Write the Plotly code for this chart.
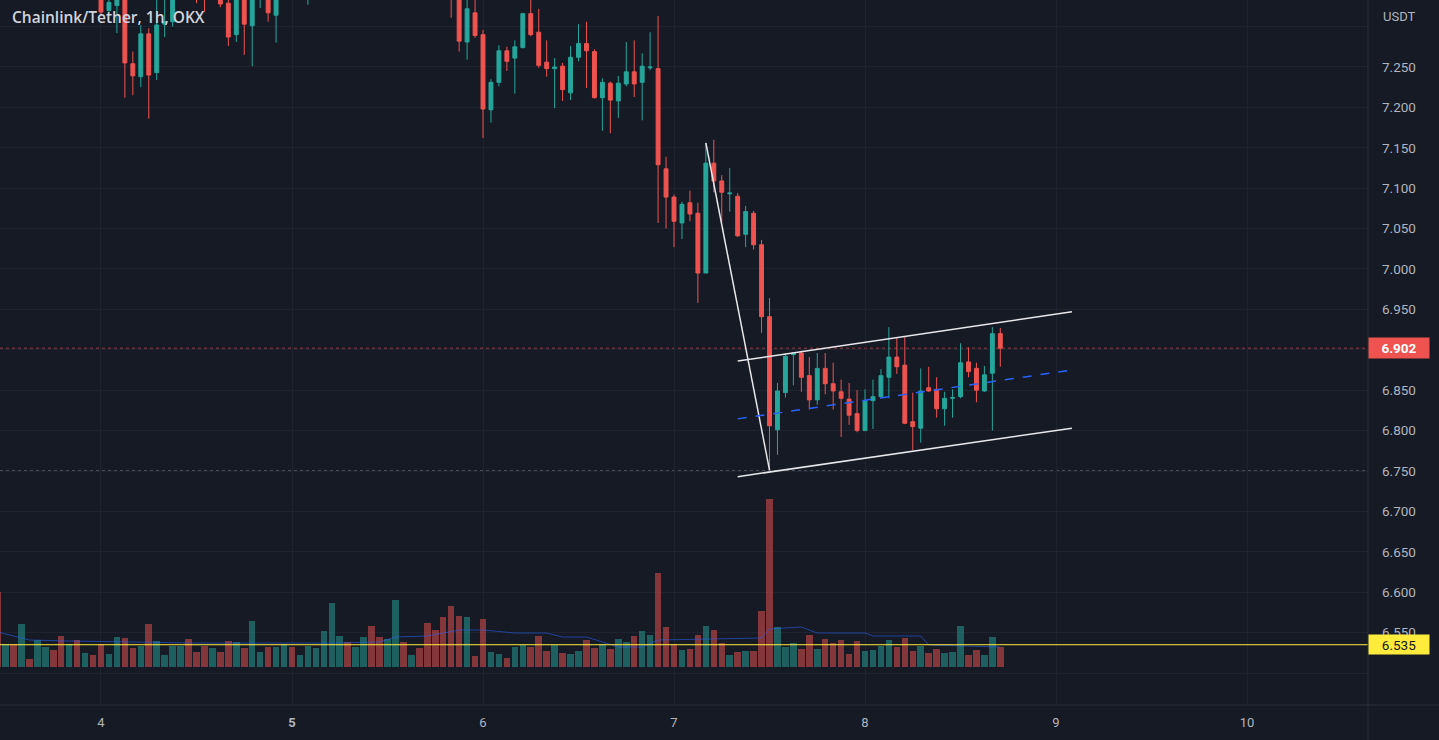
import pandas as pd
import plotly.graph_objects as go

# ---------------- data (hourly candles, LINK/USDT, OKX) ----------------
start_time = "2022-12-03 11:00"
n_candles = 127
times = pd.date_range(start_time, periods=n_candles, freq="h")

opens = [
    7.420, 7.395, 7.402, 7.386, 7.408, 7.398, 7.410, 7.414, 7.400, 7.378, 7.386, 7.368, 7.372,
    7.352, 7.320, 7.326, 7.352, 7.254, 7.238, 7.291, 7.243, 7.303, 7.306,
    7.360, 7.385, 7.370, 7.352, 7.345, 7.362, 7.329, 7.290, 7.345, 7.301,
    7.342, 7.358, 7.314, 7.346, 7.365, 7.350, 7.358, 7.372, 7.385, 7.405,
    7.440, 7.452, 7.442, 7.448, 7.462, 7.438, 7.428, 7.440, 7.478, 7.465,
    7.470, 7.458, 7.425, 7.405, 7.372, 7.345, 7.281, 7.317, 7.290, 7.197,
    7.231, 7.270, 7.261, 7.274, 7.316, 7.293, 7.256, 7.248, 7.251, 7.218,
    7.262, 7.279, 7.269, 7.212, 7.230, 7.208, 7.229, 7.244, 7.231, 7.249,
    7.248, 7.124, 7.089, 7.057, 7.082, 7.069, 6.995, 7.131, 7.109, 7.093,
    7.090, 7.043, 7.069, 7.030, 6.941, 6.801, 6.847, 6.894, 6.896, 6.868,
    6.838, 6.877, 6.858, 6.848, 6.839, 6.821, 6.800, 6.837, 6.842, 6.866,
    6.891, 6.881, 6.811, 6.803, 6.853, 6.851, 6.827, 6.840, 6.842, 6.885,
    6.877, 6.849, 6.871, 6.920,
]
highs = [
    7.428, 7.410, 7.408, 7.415, 7.412, 7.418, 7.420, 7.418, 7.405, 7.392, 7.390, 7.378, 7.376,
    7.360, 7.336, 7.360, 7.360, 7.269, 7.302, 7.298, 7.345, 7.340, 7.370,
    7.392, 7.392, 7.375, 7.358, 7.368, 7.366, 7.338, 7.352, 7.350, 7.350,
    7.362, 7.362, 7.355, 7.372, 7.370, 7.364, 7.378, 7.390, 7.412, 7.452,
    7.460, 7.458, 7.455, 7.468, 7.470, 7.444, 7.446, 7.490, 7.482, 7.476,
    7.474, 7.462, 7.432, 7.410, 7.378, 7.350, 7.340, 7.336, 7.296, 7.235,
    7.277, 7.275, 7.283, 7.317, 7.338, 7.322, 7.283, 7.261, 7.255, 7.276,
    7.303, 7.306, 7.272, 7.236, 7.232, 7.239, 7.281, 7.283, 7.267, 7.293,
    7.313, 7.139, 7.092, 7.083, 7.097, 7.082, 7.156, 7.160, 7.116, 7.125,
    7.094, 7.078, 7.072, 7.036, 6.964, 6.859, 6.896, 6.897, 6.899, 6.891,
    6.896, 6.896, 6.884, 6.863, 6.859, 6.850, 6.851, 6.863, 6.876, 6.928,
    6.915, 6.916, 6.847, 6.877, 6.879, 6.866, 6.848, 6.851, 6.908, 6.903,
    6.884, 6.880, 6.928, 6.927,
]
lows = [
    7.388, 7.385, 7.378, 7.380, 7.392, 7.394, 7.402, 7.395, 7.370, 7.372, 7.360, 7.362, 7.342,
    7.313, 7.313, 7.292, 7.212, 7.215, 7.225, 7.186, 7.234, 7.287, 7.300,
    7.350, 7.362, 7.329, 7.318, 7.338, 7.324, 7.276, 7.281, 7.265, 7.251,
    7.323, 7.306, 7.280, 7.340, 7.344, 7.342, 7.327, 7.366, 7.378, 7.400,
    7.432, 7.436, 7.438, 7.442, 7.432, 7.420, 7.422, 7.436, 7.460, 7.460,
    7.452, 7.418, 7.398, 7.360, 7.311, 7.269, 7.259, 7.286, 7.162, 7.181,
    7.226, 7.245, 7.217, 7.273, 7.288, 7.249, 7.238, 7.199, 7.208, 7.209,
    7.257, 7.224, 7.211, 7.171, 7.168, 7.187, 7.226, 7.213, 7.184, 7.246,
    7.057, 7.050, 7.027, 7.037, 7.059, 6.958, 6.995, 7.095, 7.058, 7.071,
    7.040, 7.027, 7.024, 6.921, 6.751, 6.770, 6.841, 6.856, 6.848, 6.826,
    6.832, 6.845, 6.826, 6.792, 6.807, 6.798, 6.800, 6.802, 6.840, 6.840,
    6.870, 6.808, 6.776, 6.785, 6.848, 6.816, 6.806, 6.816, 6.840, 6.866,
    6.835, 6.848, 6.800, 6.879,
]
closes = [
    7.395, 7.402, 7.386, 7.408, 7.398, 7.410, 7.414, 7.400, 7.378, 7.386, 7.368, 7.372, 7.352,
    7.318, 7.330, 7.352, 7.255, 7.239, 7.291, 7.240, 7.302, 7.306, 7.360,
    7.385, 7.370, 7.352, 7.345, 7.362, 7.328, 7.287, 7.345, 7.303, 7.342,
    7.358, 7.317, 7.346, 7.365, 7.350, 7.358, 7.372, 7.385, 7.405, 7.440,
    7.452, 7.442, 7.448, 7.462, 7.438, 7.428, 7.440, 7.478, 7.465, 7.470,
    7.458, 7.425, 7.405, 7.372, 7.345, 7.282, 7.322, 7.289, 7.198, 7.231,
    7.270, 7.257, 7.275, 7.316, 7.290, 7.252, 7.248, 7.250, 7.222, 7.262,
    7.279, 7.270, 7.212, 7.231, 7.209, 7.230, 7.244, 7.229, 7.251, 7.250,
    7.129, 7.089, 7.059, 7.080, 7.068, 6.995, 7.131, 7.109, 7.095, 7.094,
    7.041, 7.071, 7.030, 6.941, 6.806, 6.849, 6.892, 6.896, 6.866, 6.838,
    6.877, 6.858, 6.849, 6.840, 6.819, 6.800, 6.837, 6.842, 6.868, 6.891,
    6.879, 6.809, 6.805, 6.849, 6.849, 6.827, 6.840, 6.841, 6.884, 6.873,
    6.850, 6.869, 6.920, 6.902,
]
volumes = [
    75, 23, 23, 43, 8, 27, 20, 17, 31, 23, 27, 14, 12,
    23, 13, 30, 29, 19, 21, 43, 26, 12, 21,
    21, 28, 15, 21, 19, 15, 26, 25, 19, 46,
    15, 20, 20, 23, 20, 12, 21, 19, 36, 64,
    31, 25, 20, 30, 41, 30, 28, 67, 25, 12,
    19, 44, 37, 50, 61, 51, 50, 11, 48, 15,
    13, 9, 20, 22, 20, 31, 16, 22, 14, 13,
    16, 27, 19, 23, 18, 28, 25, 31, 36, 32,
    94, 40, 23, 17, 18, 32, 41, 37, 24, 12,
    15, 16, 16, 56, 168, 40, 20, 24, 18, 32,
    18, 28, 24, 27, 13, 26, 16, 17, 21, 27,
    20, 29, 16, 21, 14, 18, 14, 15, 41, 12,
    17, 12, 30, 20,
]
# volume moving-average line at a few candles
vol_ma_times = ["2022-12-03 11:00", "2022-12-03 15:00", "2022-12-03 20:00", "2022-12-04 08:00",
                "2022-12-04 12:00", "2022-12-05 05:00", "2022-12-05 11:00", "2022-12-05 13:00",
                "2022-12-05 17:00", "2022-12-05 21:00", "2022-12-06 00:00", "2022-12-06 04:00",
                "2022-12-06 08:00", "2022-12-06 10:00", "2022-12-06 13:00", "2022-12-06 15:00",
                "2022-12-06 17:00", "2022-12-06 20:00", "2022-12-06 22:00", "2022-12-07 11:00",
                "2022-12-07 12:00", "2022-12-07 16:00", "2022-12-07 18:00", "2022-12-08 00:00",
                "2022-12-08 01:00", "2022-12-08 07:00", "2022-12-08 08:00", "2022-12-08 17:00"]
vol_ma_values = [35, 27, 26, 25, 24, 24, 25, 30, 31, 37, 37, 34, 34, 30, 30, 25,
                 20, 20, 27, 29, 38, 40, 34, 34, 31, 31, 22, 20]

day_ticks = ["2022-12-04", "2022-12-05", "2022-12-06", "2022-12-07",
             "2022-12-08", "2022-12-09", "2022-12-10"]
day_labels = ["4", "<b>5</b>", "6", "7", "8", "9", "10"]
price_ticks = [6.50, 6.55, 6.60, 6.65, 6.70, 6.75, 6.80, 6.85, 6.90, 6.95,
               7.00, 7.05, 7.10, 7.15, 7.20, 7.25, 7.30]
price_labels = ["", "6.550", "6.600", "6.650", "6.700", "6.750", "6.800", "6.850", "6.900",
                "6.950", "7.000", "7.050", "7.100", "7.150", "7.200", "7.250", ""]

# drawings
impulse_x = ["2022-12-07 04:00", "2022-12-07 12:00"]
impulse_y = [7.156, 6.751]
channel_x = ["2022-12-07 08:00", "2022-12-09 02:00"]
channel_upper = [6.886, 6.947]
channel_lower = [6.743, 6.803]
channel_mid = [6.8145, 6.875]

last_price = 6.902
support_level = 6.750
yellow_level = 6.535

x_range = ["2022-12-03 11:18:36", "2022-12-10 15:12:00"]
y_range = [6.4604, 7.3329]
vol_range = [-38, 667]

# ---------------- style ----------------
BG = "#161a25"
GRID = "#1f2330"
UP = "#26a69a"
DN = "#ef5350"
TXT = "#b2b5be"
FONT = "Roboto"

vol_colors = ["rgba(38,166,154,0.5)" if c >= o else "rgba(239,83,80,0.5)"
              for o, c in zip(opens, closes)]

fig = go.Figure()

fig.add_trace(go.Bar(
    x=times, y=volumes, yaxis="y2", marker_color=vol_colors, marker_line_width=0,
    width=0.82 * 3600000, hoverinfo="skip", showlegend=False))
fig.add_trace(go.Scatter(
    x=pd.to_datetime(vol_ma_times), y=vol_ma_values, yaxis="y2", mode="lines",
    line=dict(color="rgba(41,98,255,0.55)", width=1), hoverinfo="skip", showlegend=False))

fig.add_trace(go.Candlestick(
    x=times, open=opens, high=highs, low=lows, close=closes,
    increasing=dict(line=dict(color=UP, width=1), fillcolor=UP),
    decreasing=dict(line=dict(color=DN, width=1), fillcolor=DN),
    whiskerwidth=0, showlegend=False, hoverinfo="skip"))

fig.add_trace(go.Scatter(x=pd.to_datetime(impulse_x), y=impulse_y, mode="lines",
                         line=dict(color="#e8e8ec", width=1.5), hoverinfo="skip", showlegend=False))
fig.add_trace(go.Scatter(x=pd.to_datetime(channel_x), y=channel_upper, mode="lines",
                         line=dict(color="#e8e8ec", width=1.5), hoverinfo="skip", showlegend=False))
fig.add_trace(go.Scatter(x=pd.to_datetime(channel_x), y=channel_lower, mode="lines",
                         line=dict(color="#e8e8ec", width=1.5), hoverinfo="skip", showlegend=False))
fig.add_trace(go.Scatter(x=pd.to_datetime(channel_x), y=channel_mid, mode="lines",
                         line=dict(color="#2962ff", width=1.5, dash="dash"), hoverinfo="skip",
                         showlegend=False))

shapes = [
    dict(type="line", xref="paper", x0=0, x1=1, yref="y", y0=last_price, y1=last_price,
         line=dict(color="rgba(239,83,80,0.6)", width=1, dash="dot"), layer="below"),
    dict(type="line", xref="paper", x0=0, x1=1, yref="y", y0=support_level, y1=support_level,
         line=dict(color="rgba(200,202,210,0.6)", width=1, dash="dot"), layer="below"),
    dict(type="line", xref="paper", x0=0, x1=1, yref="y", y0=yellow_level, y1=yellow_level,
         line=dict(color="#ffeb3b", width=1), layer="above"),
    # pane separators
    dict(type="line", xref="paper", x0=0, x1=1.06, yref="paper", y0=0, y1=0,
         line=dict(color="#2a2e39", width=1), layer="above"),
    dict(type="line", xref="paper", x0=1, x1=1, yref="paper", y0=-0.06, y1=1,
         line=dict(color="#2a2e39", width=1), layer="above"),
]

annotations = [
    dict(text="Chainlink/Tether, 1h, OKX", xref="paper", yref="paper", x=0, xshift=10,
         y=1, yshift=-17, xanchor="left", yanchor="middle", showarrow=False,
         font=dict(family="Open Sans", size=15.5, color="#d1d4dc", weight=600)),
    dict(text="USDT", xref="paper", yref="paper", x=1, xshift=13, y=1, yshift=-16,
         xanchor="left", yanchor="middle", showarrow=False,
         font=dict(family=FONT, size=13, color=TXT), bgcolor=BG),
    dict(text="<b>%.3f</b>" % last_price, xref="paper", yref="y", x=1, y=last_price,
         xanchor="left", yanchor="middle", showarrow=False, width=52, height=12, borderpad=4,
         bgcolor="#ef5350", font=dict(family=FONT, size=13.5, color="#ffffff")),
    dict(text="%.3f" % yellow_level, xref="paper", yref="y", x=1, y=yellow_level,
         xanchor="left", yanchor="middle", showarrow=False, width=52, height=11, borderpad=4,
         bgcolor="#ffeb3b", font=dict(family=FONT, size=13.5, color="#131722")),
]

fig.update_layout(
    width=1439, height=740,
    margin=dict(l=0, r=71, t=0, b=35),
    paper_bgcolor=BG, plot_bgcolor=BG,
    showlegend=False, hovermode=False, bargap=0,
    shapes=shapes, annotations=annotations,
    xaxis=dict(type="date", range=x_range, rangeslider=dict(visible=False),
               tickvals=pd.to_datetime(day_ticks), ticktext=day_labels,
               showgrid=True, gridcolor=GRID, gridwidth=1, zeroline=False,
               ticks="", ticklabelstandoff=8,
               tickfont=dict(family=FONT, size=13, color=TXT), showline=False),
    yaxis=dict(range=y_range, side="right", tickvals=price_ticks, ticktext=price_labels,
               showgrid=True, gridcolor=GRID, gridwidth=1, zeroline=False, ticks="",
               ticklabelstandoff=13, tickfont=dict(family=FONT, size=13.5, color=TXT),
               showline=False),
    yaxis2=dict(range=vol_range, overlaying="y", visible=False, showgrid=False),
)

fig.write_html("out.html", config={"displayModeBar": False})
